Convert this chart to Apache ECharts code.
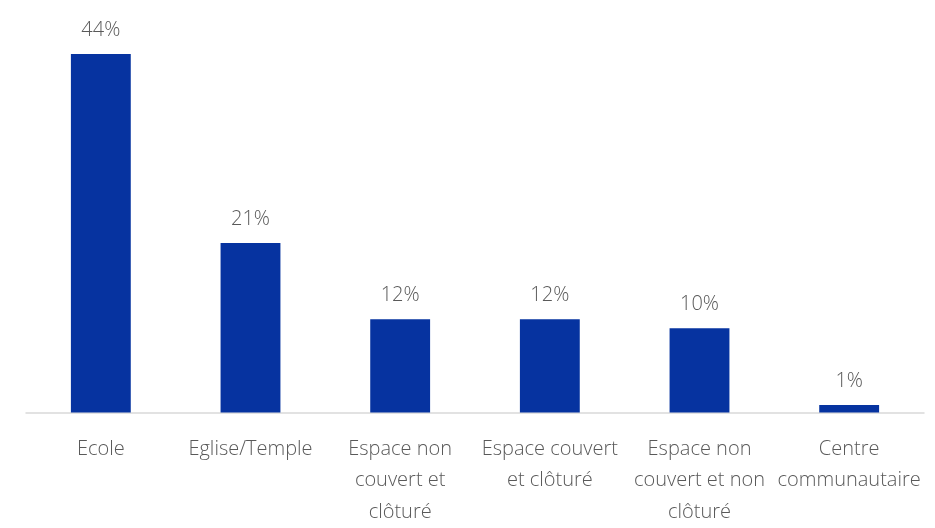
<!DOCTYPE html>
<html>
<head>
<meta charset="utf-8">
<script src="https://cdn.jsdelivr.net/npm/echarts@6/dist/echarts.min.js"></script>
<style>html,body{margin:0;padding:0;background:#fff}#c{width:935px;height:528px}</style>
</head>
<body>
<div id="c"></div>
<script>
const categories = ["Ecole", "Eglise/Temple", "Espace non\ncouvert et\nclôturé", "Espace couvert\net clôturé", "Espace non\ncouvert et non\nclôturé", "Centre\ncommunautaire"];
const values = [44.2, 20.9, 11.5, 11.5, 10.4, 0.92];
const valueLabels = ["44%", "21%", "12%", "12%", "10%", "1%"];

const chart = echarts.init(document.getElementById('c'), null, {renderer: 'canvas'});
chart.setOption({
  animation: false,
  grid: {left: 26, right: 11, top: 7, bottom: 114, containLabel: false},
  xAxis: {
    type: 'category',
    data: categories,
    axisLine: {show: true, lineStyle: {color: '#d9d9d9', width: 1.5}},
    axisTick: {show: false},
    axisLabel: {
      interval: 0, margin: 21, color: '#595959',
      fontFamily: 'Open Sans', fontWeight: 300, fontSize: 20, lineHeight: 31.5
    }
  },
  yAxis: {type: 'value', min: 0, max: 50, show: false, splitLine: {show: false}},
  series: [{
    type: 'bar',
    data: values,
    barWidth: '40%',
    itemStyle: {color: '#0633A0'},
    label: {
      show: true, position: 'top', distance: 14,
      color: '#595959', fontFamily: 'Open Sans', fontWeight: 300, fontSize: 20,
      formatter: p => valueLabels[p.dataIndex]
    }
  }]
});
</script>
</body>
</html>
